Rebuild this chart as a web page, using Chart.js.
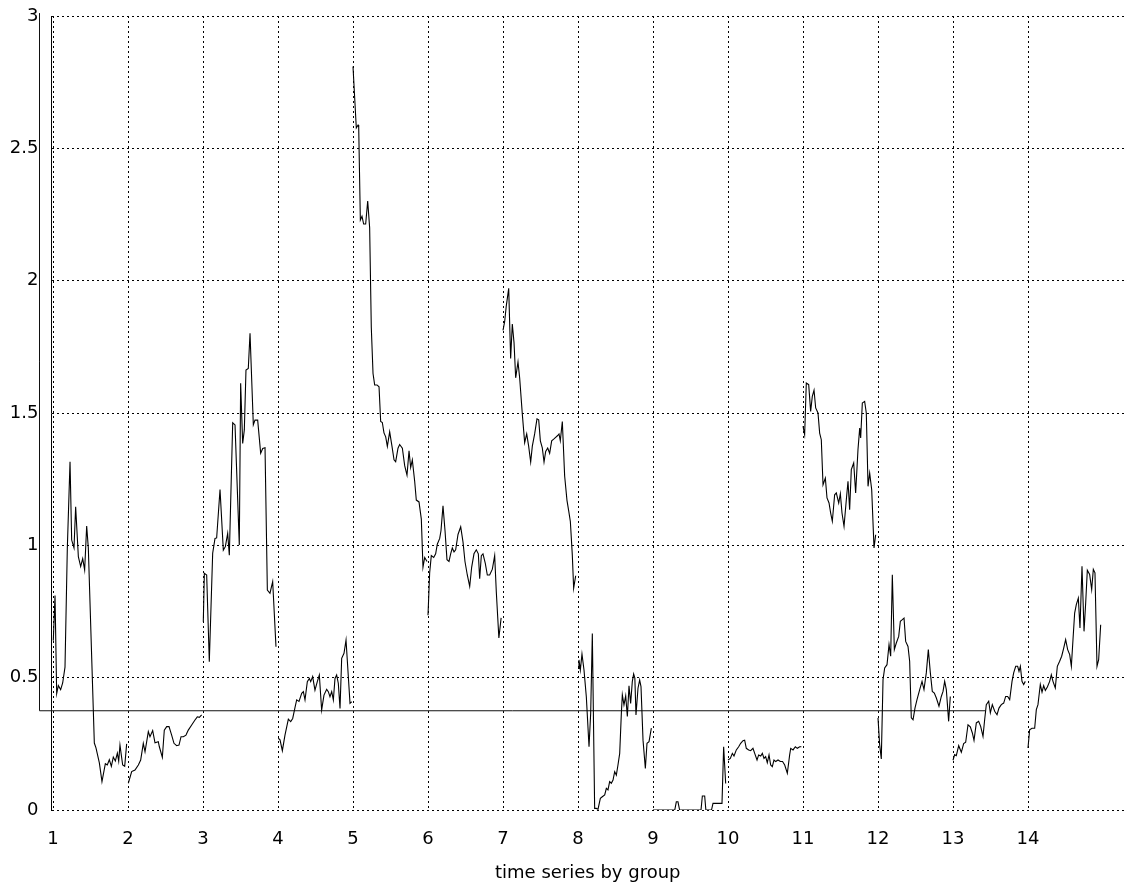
<!DOCTYPE html>
<html>
<head>
<meta charset="utf-8">
<script src="https://cdn.jsdelivr.net/npm/chart.js@4"></script>
<style>
  html, body { margin: 0; padding: 0; background: #fff; }
  #wrap { width: 1124px; height: 885px; position: relative; }
</style>
</head>
<body>
<div id="wrap"><canvas id="c"></canvas></div>
<script>
// ---- data ----
const xTicks = [1, 2, 3, 4, 5, 6, 7, 8, 9, 10, 11, 12, 13, 14];
const yTicks = [0, 0.5, 1, 1.5, 2, 2.5, 3];
const xTitle = 'time series by group';

const g1x = [1.004,1.027,1.049,1.071,1.102,1.129,1.16,1.191,1.227,1.249,1.28,1.302,1.338,1.369,1.396,1.422,1.449,1.471,1.551,1.573,1.618,1.653,1.698,1.724,1.751,1.778,1.804,1.831,1.858,1.876,1.893,1.929,1.956,1.982];
const g1y = [0.64,0.81,0.44,0.47,0.455,0.48,0.54,0.99,1.316,1.02,0.99,1.146,0.957,0.92,0.95,0.907,1.073,0.99,0.253,0.235,0.178,0.107,0.175,0.17,0.19,0.165,0.2,0.185,0.215,0.185,0.245,0.17,0.165,0.25];

const g2x = [2.004,2.049,2.093,2.138,2.169,2.204,2.227,2.271,2.293,2.329,2.36,2.404,2.418,2.458,2.484,2.516,2.547,2.582,2.613,2.649,2.68,2.707,2.738,2.773,2.804,2.849,2.893,2.924,2.951,2.982];
const g2y = [0.101,0.145,0.151,0.17,0.189,0.252,0.22,0.296,0.277,0.3,0.254,0.258,0.239,0.199,0.302,0.315,0.315,0.283,0.252,0.243,0.245,0.277,0.277,0.283,0.302,0.321,0.34,0.352,0.35,0.359];

const g3x = [3.004,3.018,3.049,3.084,3.129,3.16,3.182,3.227,3.271,3.298,3.329,3.351,3.396,3.427,3.484,3.502,3.529,3.551,3.573,3.604,3.627,3.671,3.693,3.729,3.769,3.796,3.827,3.858,3.893,3.929,3.973];
const g3y = [0.711,0.894,0.888,0.56,0.97,1.026,1.028,1.211,0.982,0.995,1.045,0.963,1.463,1.455,1.001,1.612,1.385,1.436,1.662,1.668,1.801,1.455,1.473,1.473,1.348,1.366,1.369,0.831,0.819,0.863,0.617];

const g4x = [4.004,4.027,4.058,4.093,4.138,4.169,4.196,4.227,4.249,4.28,4.316,4.338,4.36,4.391,4.418,4.436,4.462,4.493,4.524,4.551,4.582,4.613,4.649,4.671,4.693,4.716,4.738,4.76,4.782,4.804,4.827,4.849,4.88,4.907,4.96,4.982];
const g4y = [0.271,0.265,0.224,0.283,0.343,0.334,0.346,0.388,0.416,0.41,0.441,0.447,0.416,0.485,0.497,0.485,0.504,0.453,0.485,0.51,0.378,0.434,0.456,0.447,0.428,0.447,0.416,0.497,0.51,0.479,0.384,0.573,0.592,0.642,0.403,0.409];

const g5x = [5.0,5.022,5.044,5.067,5.076,5.098,5.12,5.142,5.169,5.196,5.222,5.244,5.267,5.289,5.32,5.347,5.369,5.391,5.413,5.436,5.458,5.489,5.52,5.547,5.569,5.6,5.622,5.658,5.689,5.72,5.747,5.769,5.791,5.822,5.844,5.88,5.911,5.933,5.956,5.987];
const g5y = [2.809,2.693,2.577,2.588,2.58,2.229,2.243,2.214,2.214,2.301,2.2,1.823,1.649,1.606,1.606,1.599,1.468,1.464,1.425,1.41,1.374,1.429,1.374,1.323,1.316,1.367,1.381,1.367,1.301,1.265,1.357,1.294,1.323,1.243,1.171,1.164,1.099,0.917,0.954,0.939];

const g6x = [6.0,6.022,6.044,6.076,6.102,6.124,6.156,6.173,6.2,6.227,6.253,6.28,6.302,6.324,6.347,6.369,6.4,6.436,6.467,6.493,6.524,6.556,6.582,6.613,6.644,6.671,6.689,6.711,6.733,6.764,6.791,6.822,6.858,6.889,6.911,6.945,6.975];
const g6y = [0.736,0.896,0.961,0.954,0.968,1.004,1.026,1.055,1.149,1.055,0.946,0.939,0.968,0.99,0.975,0.983,1.041,1.07,1.012,0.939,0.888,0.845,0.917,0.968,0.983,0.968,0.874,0.961,0.968,0.932,0.888,0.888,0.91,0.961,0.823,0.65,0.726];

const g7x = [7.0,7.022,7.044,7.076,7.102,7.124,7.147,7.169,7.2,7.222,7.258,7.289,7.316,7.342,7.369,7.391,7.422,7.453,7.476,7.498,7.524,7.547,7.569,7.596,7.622,7.649,7.676,7.702,7.729,7.747,7.764,7.791,7.822,7.853,7.876,7.898,7.924,7.942,7.969];
const g7y = [1.812,1.845,1.905,1.971,1.706,1.836,1.766,1.633,1.693,1.633,1.494,1.388,1.421,1.375,1.315,1.375,1.421,1.478,1.474,1.395,1.368,1.315,1.355,1.368,1.348,1.395,1.401,1.408,1.415,1.421,1.395,1.468,1.262,1.17,1.13,1.09,0.964,0.838,0.885];

const g8x = [8.0,8.013,8.031,8.053,8.08,8.111,8.147,8.169,8.191,8.222,8.244,8.267,8.298,8.324,8.356,8.378,8.4,8.422,8.444,8.467,8.489,8.511,8.533,8.556,8.578,8.591,8.613,8.636,8.658,8.68,8.702,8.724,8.742,8.758,8.773,8.8,8.822,8.84,8.867,8.898,8.92,8.947,8.978];
const g8y = [0.535,0.567,0.529,0.589,0.529,0.428,0.239,0.365,0.667,0.006,0.006,0.003,0.044,0.05,0.057,0.082,0.076,0.107,0.101,0.113,0.145,0.132,0.17,0.214,0.365,0.435,0.397,0.431,0.353,0.469,0.403,0.485,0.514,0.498,0.359,0.46,0.491,0.466,0.264,0.157,0.252,0.258,0.309];

const g9x = [9.0,9.29,9.311,9.333,9.355,9.64,9.658,9.689,9.705,9.78,9.8,9.92,9.942,9.969];
const g9y = [0,0,0.031,0.031,0,0,0.053,0.053,0,0,0.025,0.025,0.239,0.1];

const g10x = [10.0,10.031,10.058,10.08,10.111,10.142,10.169,10.2,10.222,10.244,10.276,10.302,10.333,10.356,10.387,10.409,10.436,10.458,10.48,10.502,10.524,10.547,10.569,10.591,10.613,10.636,10.667,10.698,10.727,10.756,10.791,10.822,10.836,10.867,10.898,10.924,10.956,10.978];
const g10y = [0.189,0.195,0.214,0.204,0.227,0.239,0.252,0.262,0.264,0.233,0.227,0.224,0.233,0.214,0.189,0.208,0.204,0.214,0.195,0.202,0.179,0.208,0.17,0.164,0.189,0.183,0.189,0.183,0.183,0.17,0.139,0.208,0.233,0.227,0.239,0.233,0.239,0.239];

const g11x = [11.0,11.022,11.044,11.076,11.102,11.124,11.147,11.169,11.2,11.222,11.244,11.267,11.298,11.32,11.347,11.369,11.391,11.422,11.444,11.476,11.498,11.52,11.547,11.578,11.6,11.622,11.644,11.676,11.702,11.733,11.756,11.769,11.791,11.822,11.844,11.867,11.889,11.916,11.947,11.969];
const g11y = [1.45,1.418,1.613,1.607,1.506,1.563,1.586,1.519,1.5,1.424,1.399,1.229,1.254,1.179,1.16,1.122,1.091,1.191,1.198,1.16,1.195,1.122,1.072,1.173,1.242,1.135,1.286,1.311,1.198,1.361,1.443,1.406,1.538,1.544,1.5,1.223,1.273,1.21,0.99,1.04];

const g12x = [12.0,12.022,12.044,12.067,12.089,12.12,12.147,12.169,12.191,12.218,12.244,12.276,12.298,12.324,12.347,12.369,12.4,12.422,12.444,12.467,12.493,12.52,12.556,12.587,12.613,12.644,12.671,12.698,12.724,12.751,12.778,12.813,12.844,12.867,12.889,12.911,12.942,12.964];
const g12y = [0.348,0.247,0.193,0.492,0.537,0.549,0.625,0.581,0.889,0.606,0.631,0.656,0.713,0.719,0.725,0.637,0.618,0.562,0.348,0.341,0.385,0.417,0.455,0.486,0.455,0.518,0.606,0.518,0.448,0.442,0.423,0.392,0.429,0.448,0.486,0.455,0.335,0.429];

const g13x = [13.0,13.022,13.044,13.076,13.111,13.142,13.169,13.2,13.231,13.258,13.28,13.311,13.342,13.369,13.4,13.422,13.444,13.476,13.498,13.524,13.556,13.587,13.613,13.644,13.676,13.702,13.729,13.756,13.787,13.809,13.836,13.862,13.88,13.898,13.92,13.942,13.964];
const g13y = [0.188,0.209,0.205,0.243,0.218,0.251,0.256,0.322,0.314,0.291,0.263,0.329,0.335,0.316,0.278,0.341,0.398,0.411,0.367,0.398,0.373,0.36,0.385,0.398,0.404,0.429,0.429,0.417,0.486,0.518,0.543,0.543,0.524,0.543,0.486,0.474,0.486];

const g14x = [14.0,14.022,14.053,14.089,14.111,14.133,14.164,14.187,14.209,14.231,14.258,14.289,14.311,14.333,14.364,14.391,14.422,14.449,14.476,14.502,14.529,14.556,14.578,14.6,14.622,14.644,14.671,14.693,14.72,14.747,14.769,14.791,14.822,14.849,14.871,14.893,14.92,14.942,14.969];
const g14y = [0.234,0.303,0.309,0.309,0.379,0.398,0.474,0.445,0.47,0.452,0.465,0.486,0.511,0.486,0.461,0.543,0.562,0.581,0.612,0.644,0.606,0.587,0.543,0.644,0.744,0.776,0.801,0.688,0.921,0.675,0.782,0.906,0.89,0.833,0.909,0.896,0.543,0.568,0.7];

// reference bracket line: horizontal level, then up the left side
const refX = [13.43, 0.82, 0.82];
const refY = [0.375, 0.375, 3.011];

const xMin = 0.98, xMax = 15.28, yMin = 0, yMax = 3;

// ---- build ----
const groupsX = [g1x,g2x,g3x,g4x,g5x,g6x,g7x,g8x,g9x,g10x,g11x,g12x,g13x,g14x];
const groupsY = [g1y,g2y,g3y,g4y,g5y,g6y,g7y,g8y,g9y,g10y,g11y,g12y,g13y,g14y];
const pairs = (xs, ys) => xs.map((x, i) => ({x: x, y: ys[i]}));

const datasets = groupsX.map((xs, i) => ({
  data: pairs(xs, groupsY[i]),
  borderColor: '#000',
  borderWidth: 1.1,
  pointRadius: 0,
  tension: 0,
  fill: false
}));
datasets.push({
  data: pairs(refX, refY),
  borderColor: '#111',
  borderWidth: 1,
  pointRadius: 0,
  tension: 0,
  fill: false,
  clip: false
});

const FONT = 'DejaVu Sans';

new Chart(document.getElementById('c'), {
  type: 'line',
  data: { datasets: datasets },
  options: {
    responsive: true,
    maintainAspectRatio: false,
    animation: false,
    events: [],
    layout: { padding: { top: 16, left: 0, right: 0, bottom: 0 } },
    plugins: { legend: { display: false }, tooltip: { enabled: false } },
    scales: {
      x: {
        type: 'linear',
        min: xMin, max: xMax,
        afterBuildTicks: (s) => { s.ticks = xTicks.map(v => ({ value: v })); },
        afterFit: (s) => { s.height = 75; },
        ticks: {
          color: '#000', padding: 19, maxRotation: 0, autoSkip: false,
          font: { family: FONT, size: 18 },
          callback: (v) => String(v)
        },
        grid: { color: '#000', lineWidth: 1, drawTicks: false },
        border: { display: false, dash: [2, 3] },
        title: {
          display: true, text: xTitle, color: '#000',
          font: { family: FONT, size: 18 },
          padding: { top: 0, bottom: 1 }
        }
      },
      y: {
        type: 'linear',
        min: yMin, max: yMax,
        afterBuildTicks: (s) => { s.ticks = yTicks.map(v => ({ value: v })); },
        afterFit: (s) => { s.width = 51.5; s.paddingTop = 0; s.paddingBottom = 0; },
        ticks: {
          color: '#000', padding: 13,
          font: { family: FONT, size: 18 },
          callback: (v) => String(v)
        },
        grid: { color: '#000', lineWidth: 1, drawTicks: false },
        border: { display: true, color: '#000', width: 1, dash: [2, 3] }
      }
    }
  }
});
</script>
</body>
</html>
